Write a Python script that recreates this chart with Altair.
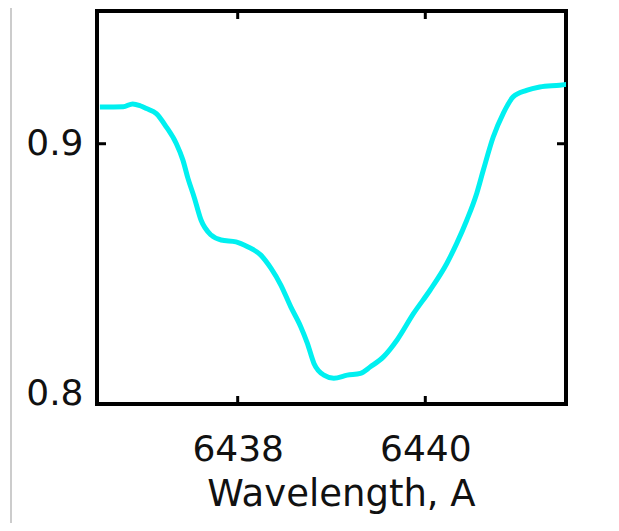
import altair as alt
import pandas as pd

wavelength = [6436.531, 6436.780, 6436.880, 6436.960, 6437.027, 6437.133, 6437.240,
              6437.345, 6437.416, 6437.469, 6437.539, 6437.610, 6437.717, 6437.823,
              6437.982, 6438.106, 6438.247, 6438.354, 6438.460, 6438.566, 6438.672,
              6438.743, 6438.813, 6438.919, 6439.025, 6439.168, 6439.309, 6439.415,
              6439.556, 6439.699, 6439.875, 6440.052, 6440.229, 6440.335, 6440.442,
              6440.548, 6440.618, 6440.724, 6440.830, 6440.936, 6441.079, 6441.220,
              6441.433, 6441.503]
flux = [0.9141, 0.9142, 0.9153, 0.9146, 0.9135, 0.9116, 0.9064,
        0.9001, 0.8937, 0.8868, 0.8791, 0.8706, 0.8649, 0.8630,
        0.8623, 0.8604, 0.8572, 0.8522, 0.8457, 0.8373, 0.8297,
        0.8233, 0.8156, 0.8111, 0.8099, 0.8111, 0.8118, 0.8143,
        0.8182, 0.8246, 0.8348, 0.8438, 0.8540, 0.8617, 0.8706,
        0.8809, 0.8898, 0.9026, 0.9116, 0.9180, 0.9205, 0.9218,
        0.9225, 0.9228]
x_ticks = [6438, 6440]
y_ticks = [0.8, 0.9]
x_domain = [6436.5, 6441.5]
y_domain = [0.8, 0.951]

W, H = 469, 393
FONT = "DejaVu Sans"

df = pd.DataFrame({"w": wavelength, "f": flux})
xt = pd.DataFrame({"t": x_ticks})
yt = pd.DataFrame({"t": y_ticks})

xs = alt.Scale(domain=x_domain, nice=False, zero=False)
ys = alt.Scale(domain=y_domain, nice=False, zero=False)

line = alt.Chart(df).mark_line(color="#00F0F0", strokeWidth=5, clip=True,
                               interpolate="monotone").encode(
    x=alt.X("w:Q", scale=xs, axis=alt.Axis(
        values=x_ticks, format="d", ticks=False, domain=False, grid=False,
        labelFont=FONT, labelFontSize=36, labelColor="#111", labelPadding=28,
        title="Wavelength, A", titleFont=FONT, titleFontSize=37, titleFontWeight="normal",
        titleColor="#111", titlePadding=9, titleX=244, titleAlign="center")),
    y=alt.Y("f:Q", scale=ys, axis=alt.Axis(
        values=y_ticks, format=".1f", ticks=False, domain=False, grid=False,
        labelFont=FONT, labelFontSize=36, labelColor="#111", labelPadding=14,
        labelFlush=True, labelFlushOffset=8, title=None)),
)

tick_style = dict(color="black", strokeWidth=3)
bot = alt.Chart(xt).mark_rule(**tick_style).encode(
    x=alt.X("t:Q", scale=xs), y=alt.value(H), y2=alt.value(H - 8))
top = alt.Chart(xt).mark_rule(**tick_style).encode(
    x=alt.X("t:Q", scale=xs), y=alt.value(0), y2=alt.value(8))
left = alt.Chart(yt).mark_rule(**tick_style).encode(
    y=alt.Y("t:Q", scale=ys), x=alt.value(0), x2=alt.value(9))
right = alt.Chart(yt).mark_rule(**tick_style).encode(
    y=alt.Y("t:Q", scale=ys), x=alt.value(W), x2=alt.value(W - 9))
edge = alt.Chart(xt).mark_rule(color="#cccccc", strokeWidth=2).encode(
    x=alt.value(-86), y=alt.value(-11), y2=alt.value(530))

chart = alt.layer(edge, line, bot, top, left, right).properties(
    width=W, height=H,
    background="white",
    autosize=alt.AutoSizeParams(type="none"),
    padding={"left": 89, "top": 3, "right": 45, "bottom": 119},
).configure_view(stroke="black", strokeWidth=4)

chart.save("out.html", embed_options={"renderer": "svg", "actions": False})
